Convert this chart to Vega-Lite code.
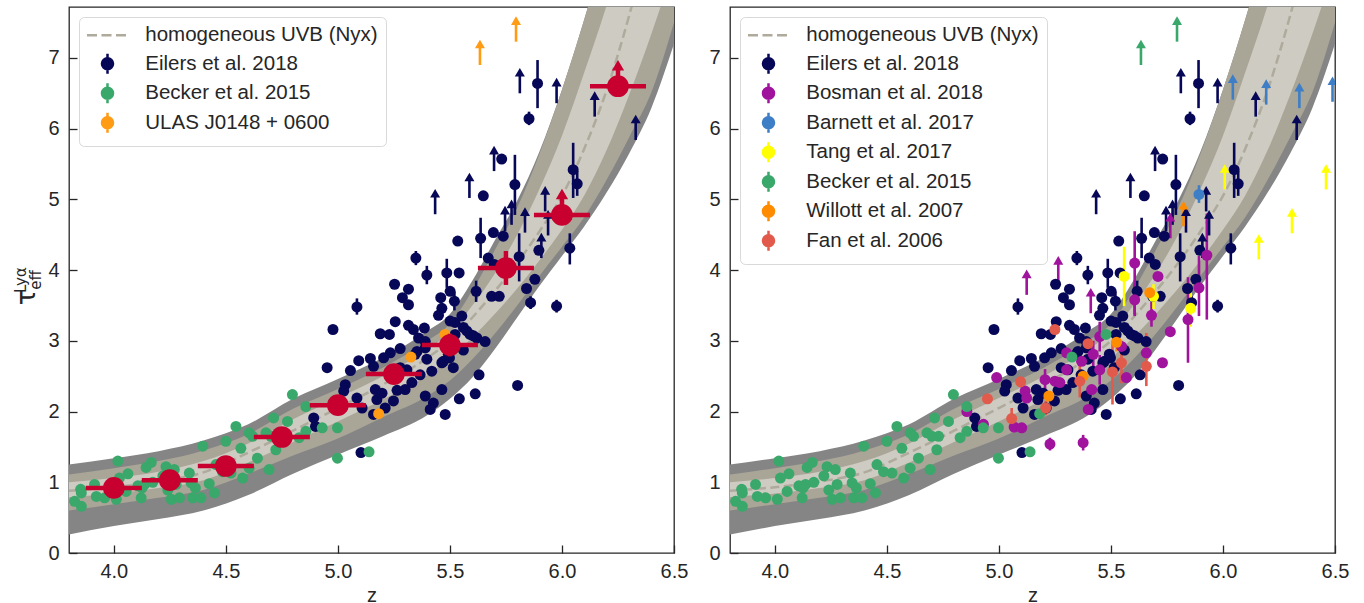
{
"$schema":"https://vega.github.io/schema/vega-lite/v6.json",
"padding":{"left":5,"top":6,"right":5,"bottom":0},
"background":"white",
"datasets":{
"band":[
{"z":3.8,"dlo":0.26,"blo":0.60,"llo":0.79,"c":0.88,"lhi":1.00,"bhi":1.11,"dhi":1.25},
{"z":4.0,"dlo":0.38,"blo":0.69,"llo":0.84,"c":0.93,"lhi":1.06,"bhi":1.20,"dhi":1.34},
{"z":4.2,"dlo":0.48,"blo":0.78,"llo":0.92,"c":1.01,"lhi":1.15,"bhi":1.30,"dhi":1.44},
{"z":4.4,"dlo":0.60,"blo":0.89,"llo":1.03,"c":1.14,"lhi":1.30,"bhi":1.45,"dhi":1.59},
{"z":4.6,"dlo":0.82,"blo":1.12,"llo":1.28,"c":1.42,"lhi":1.55,"bhi":1.68,"dhi":1.82},
{"z":4.8,"dlo":1.12,"blo":1.38,"llo":1.57,"c":1.73,"lhi":1.89,"bhi":2.04,"dhi":2.18},
{"z":5.0,"dlo":1.39,"blo":1.62,"llo":1.86,"c":2.05,"lhi":2.19,"bhi":2.32,"dhi":2.46},
{"z":5.2,"dlo":1.65,"blo":1.92,"llo":2.17,"c":2.38,"lhi":2.50,"bhi":2.62,"dhi":2.76},
{"z":5.4,"dlo":1.95,"blo":2.22,"llo":2.52,"c":2.76,"lhi":2.88,"bhi":3.00,"dhi":3.14},
{"z":5.5,"dlo":2.18,"blo":2.44,"llo":2.76,"c":3.00,"lhi":3.12,"bhi":3.24,"dhi":3.38},
{"z":5.6,"dlo":2.48,"blo":2.74,"llo":3.05,"c":3.33,"lhi":3.50,"bhi":3.71,"dhi":3.85},
{"z":5.7,"dlo":2.88,"blo":3.10,"llo":3.38,"c":3.70,"lhi":3.95,"bhi":4.28,"dhi":4.42},
{"z":5.8,"dlo":3.33,"blo":3.50,"llo":3.74,"c":4.10,"lhi":4.50,"bhi":4.88,"dhi":4.98},
{"z":5.9,"dlo":3.78,"blo":3.92,"llo":4.14,"c":4.55,"lhi":5.15,"bhi":5.65,"dhi":5.68},
{"z":6.0,"dlo":4.20,"blo":4.33,"llo":4.57,"c":5.05,"lhi":5.90,"bhi":6.55,"dhi":6.55},
{"z":6.1,"dlo":4.62,"blo":4.75,"llo":5.06,"c":5.72,"lhi":6.80,"bhi":7.55,"dhi":7.55},
{"z":6.2,"dlo":5.10,"blo":5.28,"llo":5.70,"c":6.55,"lhi":7.75,"bhi":8.65,"dhi":8.65},
{"z":6.3,"dlo":5.65,"blo":5.88,"llo":6.48,"c":7.60,"lhi":8.85,"bhi":9.80,"dhi":9.80},
{"z":6.4,"dlo":6.30,"blo":6.52,"llo":7.35,"c":8.85,"lhi":10.1,"bhi":11.0,"dhi":11.0},
{"z":6.5,"dlo":7.20,"blo":7.50,"llo":8.30,"c":10.2,"lhi":11.4,"bhi":12.2,"dhi":12.2}
],
"bins":[
{"z":4.0,"t":0.92,"zlo":3.875,"zhi":4.125},
{"z":4.25,"t":1.03,"zlo":4.125,"zhi":4.375},
{"z":4.5,"t":1.23,"zlo":4.375,"zhi":4.625},
{"z":4.75,"t":1.64,"zlo":4.625,"zhi":4.875,"lo":1.59,"hi":1.69},
{"z":5.0,"t":2.09,"zlo":4.875,"zhi":5.125,"lo":2.0,"hi":2.18},
{"z":5.25,"t":2.53,"zlo":5.125,"zhi":5.375,"lo":2.4,"hi":2.66},
{"z":5.5,"t":2.94,"zlo":5.375,"zhi":5.625,"lo":2.78,"hi":3.1},
{"z":5.75,"t":4.03,"zlo":5.625,"zhi":5.875,"lo":3.79,"hi":4.27},
{"z":6.0,"t":4.78,"zlo":5.875,"zhi":6.125,"lim":1},
{"z":6.25,"t":6.6,"zlo":6.125,"zhi":6.375,"lim":1}
],
"pts":[
{"z":5.891,"t":6.64,"lo":6.29,"hi":6.97,"L":"Eilers et al. 2018","R":"Eilers et al. 2018"},
{"z":5.853,"t":6.14,"lo":6.05,"hi":6.24,"L":"Eilers et al. 2018","R":"Eilers et al. 2018"},
{"z":5.731,"t":5.57,"L":"Eilers et al. 2018","R":"Eilers et al. 2018"},
{"z":6.05,"t":5.42,"lo":5.02,"hi":5.80,"L":"Eilers et al. 2018","R":"Eilers et al. 2018"},
{"z":6.068,"t":5.22,"lo":5.05,"hi":5.40,"L":"Eilers et al. 2018","R":"Eilers et al. 2018"},
{"z":5.79,"t":5.21,"lo":4.78,"hi":5.63,"L":"Eilers et al. 2018","R":"Eilers et al. 2018"},
{"z":5.649,"t":5.05,"L":"Eilers et al. 2018","R":"Eilers et al. 2018"},
{"z":5.637,"t":4.45,"lo":4.17,"hi":4.74,"L":"Eilers et al. 2018","R":"Eilers et al. 2018"},
{"z":5.694,"t":4.53,"L":"Eilers et al. 2018","R":"Eilers et al. 2018"},
{"z":5.738,"t":4.48,"L":"Eilers et al. 2018","R":"Eilers et al. 2018"},
{"z":5.809,"t":4.19,"lo":3.84,"hi":4.52,"L":"Eilers et al. 2018","R":"Eilers et al. 2018"},
{"z":5.897,"t":4.28,"L":"Eilers et al. 2018","R":"Eilers et al. 2018"},
{"z":6.035,"t":4.31,"lo":4.08,"hi":4.52,"L":"Eilers et al. 2018","R":"Eilers et al. 2018"},
{"z":5.486,"t":3.96,"lo":3.75,"hi":4.16,"L":"Eilers et al. 2018","R":"Eilers et al. 2018"},
{"z":5.541,"t":3.96,"L":"Eilers et al. 2018","R":"Eilers et al. 2018"},
{"z":5.671,"t":4.17,"L":"Eilers et al. 2018","R":"Eilers et al. 2018"},
{"z":5.698,"t":4.08,"L":"Eilers et al. 2018","R":"Eilers et al. 2018"},
{"z":5.879,"t":3.87,"L":"Eilers et al. 2018","R":"Eilers et al. 2018"},
{"z":5.842,"t":3.74,"L":"Eilers et al. 2018","R":"Eilers et al. 2018"},
{"z":5.617,"t":3.70,"lo":3.55,"hi":3.85,"L":"Eilers et al. 2018","R":"Eilers et al. 2018"},
{"z":5.686,"t":3.63,"L":"Eilers et al. 2018","R":"Eilers et al. 2018"},
{"z":5.72,"t":3.63,"L":"Eilers et al. 2018","R":"Eilers et al. 2018"},
{"z":5.86,"t":3.54,"lo":3.45,"hi":3.63,"L":"Eilers et al. 2018","R":"Eilers et al. 2018"},
{"z":5.976,"t":3.49,"lo":3.40,"hi":3.58,"L":"Eilers et al. 2018","R":"Eilers et al. 2018"},
{"z":5.535,"t":4.41,"L":"Eilers et al. 2018","R":"Eilers et al. 2018"},
{"z":5.348,"t":4.17,"lo":4.07,"hi":4.27,"L":"Eilers et al. 2018","R":"Eilers et al. 2018"},
{"z":5.397,"t":3.93,"lo":3.80,"hi":4.06,"L":"Eilers et al. 2018","R":"Eilers et al. 2018"},
{"z":5.253,"t":3.80,"L":"Eilers et al. 2018","R":"Eilers et al. 2018"},
{"z":5.315,"t":3.73,"L":"Eilers et al. 2018","R":"Eilers et al. 2018"},
{"z":5.288,"t":3.61,"L":"Eilers et al. 2018","R":"Eilers et al. 2018"},
{"z":5.315,"t":3.51,"L":"Eilers et al. 2018","R":"Eilers et al. 2018"},
{"z":5.085,"t":3.48,"lo":3.37,"hi":3.60,"L":"Eilers et al. 2018","R":"Eilers et al. 2018"},
{"z":4.978,"t":3.16,"L":"Eilers et al. 2018","R":"Eilers et al. 2018"},
{"z":5.256,"t":3.27,"L":"Eilers et al. 2018","R":"Eilers et al. 2018"},
{"z":5.315,"t":3.22,"L":"Eilers et al. 2018","R":"Eilers et al. 2018"},
{"z":5.189,"t":3.10,"L":"Eilers et al. 2018","R":"Eilers et al. 2018"},
{"z":5.23,"t":3.09,"L":"Eilers et al. 2018","R":"Eilers et al. 2018"},
{"z":5.337,"t":3.16,"L":"Eilers et al. 2018","R":"Eilers et al. 2018"},
{"z":5.386,"t":3.18,"L":"Eilers et al. 2018","R":"Eilers et al. 2018"},
{"z":5.36,"t":3.04,"L":"Eilers et al. 2018","R":"Eilers et al. 2018"},
{"z":5.459,"t":3.61,"L":"Eilers et al. 2018","R":"Eilers et al. 2018"},
{"z":5.464,"t":3.46,"L":"Eilers et al. 2018","R":"Eilers et al. 2018"},
{"z":5.449,"t":3.36,"L":"Eilers et al. 2018","R":"Eilers et al. 2018"},
{"z":5.501,"t":3.70,"L":"Eilers et al. 2018","R":"Eilers et al. 2018"},
{"z":5.52,"t":3.56,"lo":3.43,"hi":3.69,"L":"Eilers et al. 2018","R":"Eilers et al. 2018"},
{"z":5.553,"t":3.35,"L":"Eilers et al. 2018","R":"Eilers et al. 2018"},
{"z":5.523,"t":3.26,"L":"Eilers et al. 2018","R":"Eilers et al. 2018"},
{"z":5.56,"t":3.19,"L":"Eilers et al. 2018","R":"Eilers et al. 2018"},
{"z":5.59,"t":3.09,"L":"Eilers et al. 2018","R":"Eilers et al. 2018"},
{"z":5.62,"t":3.04,"L":"Eilers et al. 2018","R":"Eilers et al. 2018"},
{"z":5.657,"t":2.99,"L":"Eilers et al. 2018","R":"Eilers et al. 2018"},
{"z":5.56,"t":2.87,"L":"Eilers et al. 2018","R":"Eilers et al. 2018"},
{"z":5.39,"t":2.99,"L":"Eilers et al. 2018","R":"Eilers et al. 2018"},
{"z":5.353,"t":2.85,"L":"Eilers et al. 2018","R":"Eilers et al. 2018"},
{"z":5.397,"t":2.74,"L":"Eilers et al. 2018","R":"Eilers et al. 2018"},
{"z":5.278,"t":2.89,"L":"Eilers et al. 2018","R":"Eilers et al. 2018"},
{"z":5.234,"t":2.83,"L":"Eilers et al. 2018","R":"Eilers et al. 2018"},
{"z":5.204,"t":2.76,"L":"Eilers et al. 2018","R":"Eilers et al. 2018"},
{"z":5.145,"t":2.75,"L":"Eilers et al. 2018","R":"Eilers et al. 2018"},
{"z":5.093,"t":2.72,"L":"Eilers et al. 2018","R":"Eilers et al. 2018"},
{"z":5.056,"t":2.58,"L":"Eilers et al. 2018","R":"Eilers et al. 2018"},
{"z":4.952,"t":2.62,"L":"Eilers et al. 2018","R":"Eilers et al. 2018"},
{"z":5.464,"t":2.69,"L":"Eilers et al. 2018","R":"Eilers et al. 2018"},
{"z":5.498,"t":2.76,"L":"Eilers et al. 2018","R":"Eilers et al. 2018"},
{"z":5.419,"t":2.57,"L":"Eilers et al. 2018","R":"Eilers et al. 2018"},
{"z":5.63,"t":2.52,"L":"Eilers et al. 2018","R":"Eilers et al. 2018"},
{"z":5.308,"t":2.59,"L":"Eilers et al. 2018","R":"Eilers et al. 2018"},
{"z":5.367,"t":2.52,"L":"Eilers et al. 2018","R":"Eilers et al. 2018"},
{"z":5.575,"t":3.14,"L":"Eilers et al. 2018","R":"Eilers et al. 2018"},
{"z":5.605,"t":3.07,"L":"Eilers et al. 2018","R":"Eilers et al. 2018"},
{"z":5.464,"t":2.31,"L":"Eilers et al. 2018","R":"Eilers et al. 2018"},
{"z":5.542,"t":2.18,"L":"Eilers et al. 2018","R":"Eilers et al. 2018"},
{"z":5.613,"t":2.25,"L":"Eilers et al. 2018","R":"Eilers et al. 2018"},
{"z":5.479,"t":1.96,"L":"Eilers et al. 2018","R":"Eilers et al. 2018"},
{"z":5.802,"t":2.37,"L":"Eilers et al. 2018","R":"Eilers et al. 2018"},
{"z":5.033,"t":2.38,"L":"Eilers et al. 2018","R":"Eilers et al. 2018"},
{"z":5.026,"t":2.29,"L":"Eilers et al. 2018","R":"Eilers et al. 2018"},
{"z":5.085,"t":2.19,"L":"Eilers et al. 2018","R":"Eilers et al. 2018"},
{"z":5.108,"t":2.05,"L":"Eilers et al. 2018","R":"Eilers et al. 2018"},
{"z":5.167,"t":2.31,"L":"Eilers et al. 2018","R":"Eilers et al. 2018"},
{"z":5.174,"t":2.17,"L":"Eilers et al. 2018","R":"Eilers et al. 2018"},
{"z":5.211,"t":2.05,"L":"Eilers et al. 2018","R":"Eilers et al. 2018"},
{"z":5.248,"t":2.15,"L":"Eilers et al. 2018","R":"Eilers et al. 2018"},
{"z":5.159,"t":1.96,"L":"Eilers et al. 2018","R":"Eilers et al. 2018"},
{"z":5.197,"t":2.26,"L":"Eilers et al. 2018","R":"Eilers et al. 2018"},
{"z":5.264,"t":2.30,"L":"Eilers et al. 2018","R":"Eilers et al. 2018"},
{"z":5.30,"t":2.31,"L":"Eilers et al. 2018","R":"Eilers et al. 2018"},
{"z":5.33,"t":2.41,"L":"Eilers et al. 2018","R":"Eilers et al. 2018"},
{"z":5.278,"t":2.62,"L":"Eilers et al. 2018","R":"Eilers et al. 2018"},
{"z":5.39,"t":2.22,"L":"Eilers et al. 2018","R":"Eilers et al. 2018"},
{"z":5.426,"t":2.12,"L":"Eilers et al. 2018","R":"Eilers et al. 2018"},
{"z":5.412,"t":2.03,"L":"Eilers et al. 2018","R":"Eilers et al. 2018"},
{"z":5.345,"t":2.81,"L":"Eilers et al. 2018","R":"Eilers et al. 2018"},
{"z":5.39,"t":2.90,"L":"Eilers et al. 2018","R":"Eilers et al. 2018"},
{"z":5.471,"t":2.71,"L":"Eilers et al. 2018","R":"Eilers et al. 2018"},
{"z":5.493,"t":2.81,"L":"Eilers et al. 2018","R":"Eilers et al. 2018"},
{"z":5.515,"t":2.62,"L":"Eilers et al. 2018","R":"Eilers et al. 2018"},
{"z":5.501,"t":3.28,"L":"Eilers et al. 2018","R":"Eilers et al. 2018"},
{"z":5.523,"t":3.09,"L":"Eilers et al. 2018","R":"Eilers et al. 2018"},
{"z":4.892,"t":1.91,"L":"Eilers et al. 2018","R":"Eilers et al. 2018"},
{"z":4.90,"t":1.79,"L":"Eilers et al. 2018","R":"Eilers et al. 2018"},
{"z":5.103,"t":1.42,"L":"Eilers et al. 2018","R":"Eilers et al. 2018"},
{"z":5.159,"t":2.64,"L":"Eilers et al. 2018","R":"Eilers et al. 2018"},
{"z":5.434,"t":4.79,"lim":1,"L":"Eilers et al. 2018","R":"Eilers et al. 2018"},
{"z":5.587,"t":5.02,"lim":1,"L":"Eilers et al. 2018","R":"Eilers et al. 2018"},
{"z":5.812,"t":6.50,"lim":1,"L":"Eilers et al. 2018","R":"Eilers et al. 2018"},
{"z":5.976,"t":6.36,"lim":1,"L":"Eilers et al. 2018","R":"Eilers et al. 2018"},
{"z":6.146,"t":6.17,"lim":1,"L":"Eilers et al. 2018","R":"Eilers et al. 2018"},
{"z":6.329,"t":5.84,"lim":1,"L":"Eilers et al. 2018","R":"Eilers et al. 2018"},
{"z":5.697,"t":5.40,"lim":1,"L":"Eilers et al. 2018","R":"Eilers et al. 2018"},
{"z":5.925,"t":4.83,"lim":1,"L":"Eilers et al. 2018","R":"Eilers et al. 2018"},
{"z":5.775,"t":4.64,"lim":1,"L":"Eilers et al. 2018","R":"Eilers et al. 2018"},
{"z":5.746,"t":4.55,"lim":1,"L":"Eilers et al. 2018","R":"Eilers et al. 2018"},
{"z":5.835,"t":4.53,"lim":1,"L":"Eilers et al. 2018","R":"Eilers et al. 2018"},
{"z":5.908,"t":4.17,"lim":1,"L":"Eilers et al. 2018","R":"Eilers et al. 2018"},
{"z":5.938,"t":4.49,"lim":1,"L":"Eilers et al. 2018","R":"Eilers et al. 2018"},
{"z":5.606,"t":4.10,"lo":3.37,"hi":4.55,"R":"Bosman et al. 2018"},
{"z":5.606,"t":3.58,"lo":3.35,"hi":3.80,"R":"Bosman et al. 2018"},
{"z":5.45,"t":3.06,"lo":2.85,"hi":3.27,"R":"Bosman et al. 2018"},
{"z":5.421,"t":2.81,"lo":2.62,"hi":3.00,"R":"Bosman et al. 2018"},
{"z":5.369,"t":2.71,"R":"Bosman et al. 2018"},
{"z":5.302,"t":2.83,"R":"Bosman et al. 2018"},
{"z":5.302,"t":2.59,"R":"Bosman et al. 2018"},
{"z":5.45,"t":2.59,"lo":2.38,"hi":2.80,"R":"Bosman et al. 2018"},
{"z":5.569,"t":2.48,"R":"Bosman et al. 2018"},
{"z":5.414,"t":2.31,"R":"Bosman et al. 2018"},
{"z":5.399,"t":2.03,"R":"Bosman et al. 2018"},
{"z":5.206,"t":2.45,"lo":2.30,"hi":2.60,"R":"Bosman et al. 2018"},
{"z":5.25,"t":2.43,"R":"Bosman et al. 2018"},
{"z":5.272,"t":2.41,"R":"Bosman et al. 2018"},
{"z":5.117,"t":2.29,"R":"Bosman et al. 2018"},
{"z":5.124,"t":2.19,"R":"Bosman et al. 2018"},
{"z":4.99,"t":2.48,"R":"Bosman et al. 2018"},
{"z":4.857,"t":2.0,"R":"Bosman et al. 2018"},
{"z":4.931,"t":1.82,"R":"Bosman et al. 2018"},
{"z":5.068,"t":1.78,"R":"Bosman et al. 2018"},
{"z":5.102,"t":1.77,"R":"Bosman et al. 2018"},
{"z":5.228,"t":1.54,"lo":1.45,"hi":1.63,"R":"Bosman et al. 2018"},
{"z":5.376,"t":1.56,"lo":1.45,"hi":1.67,"R":"Bosman et al. 2018"},
{"z":5.547,"t":2.92,"R":"Bosman et al. 2018"},
{"z":5.681,"t":3.36,"lo":3.20,"hi":3.55,"R":"Bosman et al. 2018"},
{"z":5.765,"t":3.13,"R":"Bosman et al. 2018"},
{"z":5.73,"t":2.69,"R":"Bosman et al. 2018"},
{"z":5.844,"t":3.30,"lo":2.69,"hi":3.90,"R":"Bosman et al. 2018"},
{"z":5.658,"t":2.83,"R":"Bosman et al. 2018"},
{"z":5.71,"t":3.91,"R":"Bosman et al. 2018"},
{"z":5.928,"t":4.21,"lo":3.30,"hi":4.80,"R":"Bosman et al. 2018"},
{"z":5.893,"t":3.75,"lo":3.35,"hi":4.20,"R":"Bosman et al. 2018"},
{"z":5.124,"t":3.65,"lim":1,"R":"Bosman et al. 2018"},
{"z":5.265,"t":3.84,"lim":1,"R":"Bosman et al. 2018"},
{"z":5.41,"t":3.39,"lim":1,"R":"Bosman et al. 2018"},
{"z":5.765,"t":4.45,"lim":1,"R":"Bosman et al. 2018"},
{"z":5.893,"t":5.07,"lo":4.95,"hi":5.20,"R":"Barnett et al. 2017"},
{"z":6.044,"t":6.41,"lim":1,"R":"Barnett et al. 2017"},
{"z":6.193,"t":6.34,"lim":1,"R":"Barnett et al. 2017"},
{"z":6.341,"t":6.29,"lim":1,"R":"Barnett et al. 2017"},
{"z":6.489,"t":6.38,"lim":1,"R":"Barnett et al. 2017"},
{"z":5.559,"t":3.91,"lo":3.49,"hi":4.33,"R":"Tang et al. 2017"},
{"z":5.69,"t":3.63,"lo":3.45,"hi":3.80,"R":"Tang et al. 2017"},
{"z":5.856,"t":3.46,"lo":3.20,"hi":3.70,"R":"Tang et al. 2017"},
{"z":6.008,"t":5.14,"lim":1,"R":"Tang et al. 2017"},
{"z":6.16,"t":4.15,"lim":1,"R":"Tang et al. 2017"},
{"z":6.308,"t":4.52,"lim":1,"R":"Tang et al. 2017"},
{"z":6.46,"t":5.14,"lim":1,"R":"Tang et al. 2017"},
{"z":3.825,"t":0.73,"L":"Becker et al. 2015","R":"Becker et al. 2015"},
{"z":3.855,"t":0.66,"L":"Becker et al. 2015","R":"Becker et al. 2015"},
{"z":3.855,"t":0.85,"L":"Becker et al. 2015","R":"Becker et al. 2015"},
{"z":3.852,"t":0.90,"L":"Becker et al. 2015","R":"Becker et al. 2015"},
{"z":3.914,"t":0.97,"L":"Becker et al. 2015","R":"Becker et al. 2015"},
{"z":3.922,"t":0.80,"L":"Becker et al. 2015","R":"Becker et al. 2015"},
{"z":3.959,"t":0.78,"L":"Becker et al. 2015","R":"Becker et al. 2015"},
{"z":4.011,"t":0.76,"L":"Becker et al. 2015","R":"Becker et al. 2015"},
{"z":4.018,"t":1.30,"L":"Becker et al. 2015","R":"Becker et al. 2015"},
{"z":4.025,"t":1.06,"L":"Becker et al. 2015","R":"Becker et al. 2015"},
{"z":4.063,"t":1.12,"L":"Becker et al. 2015","R":"Becker et al. 2015"},
{"z":4.055,"t":0.87,"L":"Becker et al. 2015","R":"Becker et al. 2015"},
{"z":4.107,"t":0.95,"L":"Becker et al. 2015","R":"Becker et al. 2015"},
{"z":4.122,"t":0.78,"L":"Becker et al. 2015","R":"Becker et al. 2015"},
{"z":4.126,"t":0.92,"L":"Becker et al. 2015","R":"Becker et al. 2015"},
{"z":4.137,"t":0.97,"L":"Becker et al. 2015","R":"Becker et al. 2015"},
{"z":4.144,"t":1.21,"L":"Becker et al. 2015","R":"Becker et al. 2015"},
{"z":4.167,"t":1.28,"L":"Becker et al. 2015","R":"Becker et al. 2015"},
{"z":4.174,"t":1.00,"L":"Becker et al. 2015","R":"Becker et al. 2015"},
{"z":4.219,"t":1.09,"L":"Becker et al. 2015","R":"Becker et al. 2015"},
{"z":4.233,"t":1.22,"L":"Becker et al. 2015","R":"Becker et al. 2015"},
{"z":4.241,"t":0.89,"L":"Becker et al. 2015","R":"Becker et al. 2015"},
{"z":4.256,"t":0.76,"L":"Becker et al. 2015","R":"Becker et al. 2015"},
{"z":4.27,"t":1.18,"L":"Becker et al. 2015","R":"Becker et al. 2015"},
{"z":4.278,"t":0.97,"L":"Becker et al. 2015","R":"Becker et al. 2015"},
{"z":4.293,"t":0.78,"L":"Becker et al. 2015","R":"Becker et al. 2015"},
{"z":4.337,"t":1.13,"L":"Becker et al. 2015","R":"Becker et al. 2015"},
{"z":4.345,"t":0.99,"L":"Becker et al. 2015","R":"Becker et al. 2015"},
{"z":4.352,"t":0.78,"L":"Becker et al. 2015","R":"Becker et al. 2015"},
{"z":4.364,"t":0.92,"L":"Becker et al. 2015","R":"Becker et al. 2015"},
{"z":4.389,"t":0.78,"L":"Becker et al. 2015","R":"Becker et al. 2015"},
{"z":4.397,"t":1.51,"L":"Becker et al. 2015","R":"Becker et al. 2015"},
{"z":4.426,"t":0.98,"L":"Becker et al. 2015","R":"Becker et al. 2015"},
{"z":4.449,"t":0.85,"L":"Becker et al. 2015","R":"Becker et al. 2015"},
{"z":4.456,"t":1.25,"L":"Becker et al. 2015","R":"Becker et al. 2015"},
{"z":4.5,"t":1.58,"L":"Becker et al. 2015","R":"Becker et al. 2015"},
{"z":4.485,"t":1.15,"L":"Becker et al. 2015","R":"Becker et al. 2015"},
{"z":4.523,"t":1.13,"L":"Becker et al. 2015","R":"Becker et al. 2015"},
{"z":4.545,"t":1.79,"L":"Becker et al. 2015","R":"Becker et al. 2015"},
{"z":4.567,"t":1.48,"L":"Becker et al. 2015","R":"Becker et al. 2015"},
{"z":4.575,"t":1.06,"L":"Becker et al. 2015","R":"Becker et al. 2015"},
{"z":4.604,"t":1.70,"L":"Becker et al. 2015","R":"Becker et al. 2015"},
{"z":4.619,"t":1.65,"L":"Becker et al. 2015","R":"Becker et al. 2015"},
{"z":4.604,"t":1.20,"L":"Becker et al. 2015","R":"Becker et al. 2015"},
{"z":4.641,"t":1.34,"L":"Becker et al. 2015","R":"Becker et al. 2015"},
{"z":4.679,"t":1.70,"L":"Becker et al. 2015","R":"Becker et al. 2015"},
{"z":4.693,"t":1.18,"L":"Becker et al. 2015","R":"Becker et al. 2015"},
{"z":4.701,"t":1.65,"L":"Becker et al. 2015","R":"Becker et al. 2015"},
{"z":4.713,"t":1.91,"L":"Becker et al. 2015","R":"Becker et al. 2015"},
{"z":4.731,"t":1.65,"L":"Becker et al. 2015","R":"Becker et al. 2015"},
{"z":4.723,"t":1.46,"L":"Becker et al. 2015","R":"Becker et al. 2015"},
{"z":4.775,"t":1.86,"L":"Becker et al. 2015","R":"Becker et al. 2015"},
{"z":4.797,"t":2.24,"L":"Becker et al. 2015","R":"Becker et al. 2015"},
{"z":4.827,"t":1.63,"L":"Becker et al. 2015","R":"Becker et al. 2015"},
{"z":4.857,"t":2.07,"L":"Becker et al. 2015","R":"Becker et al. 2015"},
{"z":4.857,"t":1.72,"L":"Becker et al. 2015","R":"Becker et al. 2015"},
{"z":4.93,"t":1.77,"L":"Becker et al. 2015","R":"Becker et al. 2015"},
{"z":4.998,"t":1.77,"L":"Becker et al. 2015","R":"Becker et al. 2015"},
{"z":4.998,"t":1.34,"L":"Becker et al. 2015","R":"Becker et al. 2015"},
{"z":5.139,"t":1.43,"L":"Becker et al. 2015","R":"Becker et al. 2015"},
{"z":5.182,"t":1.97,"L":"ULAS J0148 + 0600","R":"Becker et al. 2015"},
{"z":5.326,"t":2.77,"L":"ULAS J0148 + 0600","R":"Becker et al. 2015"},
{"z":5.478,"t":3.09,"L":"ULAS J0148 + 0600","R":"Becker et al. 2015"},
{"z":5.634,"t":6.90,"lim":1,"L":"ULAS J0148 + 0600","R":"Becker et al. 2015"},
{"z":5.795,"t":7.23,"lim":1,"L":"ULAS J0148 + 0600","R":"Becker et al. 2015"},
{"z":5.525,"t":2.98,"lo":2.85,"hi":3.10,"R":"Willott et al. 2007"},
{"z":5.376,"t":2.50,"R":"Willott et al. 2007"},
{"z":5.223,"t":2.22,"R":"Willott et al. 2007"},
{"z":5.673,"t":3.68,"R":"Willott et al. 2007"},
{"z":5.824,"t":4.62,"lim":1,"R":"Willott et al. 2007"},
{"z":5.25,"t":3.16,"R":"Fan et al. 2006"},
{"z":5.398,"t":2.96,"R":"Fan et al. 2006"},
{"z":5.547,"t":2.69,"lo":2.40,"hi":3.00,"R":"Fan et al. 2006"},
{"z":5.507,"t":2.56,"lo":2.10,"hi":3.00,"R":"Fan et al. 2006"},
{"z":5.361,"t":2.43,"lo":2.20,"hi":2.85,"R":"Fan et al. 2006"},
{"z":5.097,"t":2.42,"R":"Fan et al. 2006"},
{"z":4.949,"t":2.18,"R":"Fan et al. 2006"},
{"z":5.209,"t":2.05,"lo":1.95,"hi":2.15,"R":"Fan et al. 2006"},
{"z":5.057,"t":1.90,"lo":1.75,"hi":2.05,"R":"Fan et al. 2006"},
{"z":5.658,"t":2.64,"lo":2.36,"hi":3.11,"R":"Fan et al. 2006"}
]
},
"bounds":"flush",
"spacing":56,
"resolve":{"scale":{"color":"independent"},"legend":{"color":"independent"}},
"hconcat":[
{
"width":605,"height":546,
"title":{"text":"Lyα","subtitle":"eff","orient":"left","anchor":"middle","offset":-38,"font":"DejaVu Sans","fontSize":15,"fontWeight":"normal","subtitleFont":"DejaVu Sans","subtitleFontSize":15,"subtitlePadding":0,"color":"#262626","subtitleColor":"#262626"},
"layer":[
{"data":{"name":"band"},"mark":{"type":"area","color":"#858585","clip":true,"interpolate":"monotone"},
"encoding":{"x":{"field":"z","type":"quantitative","scale":{"domain":[3.8,6.5],"nice":false,"zero":false},"axis":{"values":[4,4.5,5,5.5,6,6.5],"format":".1f","labelPadding":32,"labelBaseline":"alphabetic","labelFlush":false,"labelOverlap":false,"title":"z","titleY":48,"titleBaseline":"alphabetic"}},
"y":{"field":"dlo","type":"quantitative","scale":{"domain":[0,7.72],"nice":false,"zero":false},"axis":{"values":[0,1,2,3,4,5,6,7],"format":"d","labelPadding":18,"labelFlush":false,"labelOverlap":false,"title":"τ","titleFont":"DejaVu Sans","titleFontSize":26,"titleAngle":270,"titleBaseline":"alphabetic","titleAlign":"center","titleX":-35,"titleY":290,"minExtent":63,"maxExtent":63}},
"y2":{"field":"dhi"}}},
{"data":{"name":"band"},"mark":{"type":"area","color":"#a9a597","clip":true,"interpolate":"monotone"},
"encoding":{"x":{"field":"z","type":"quantitative"},"y":{"field":"blo","type":"quantitative"},"y2":{"field":"bhi"}}},
{"data":{"name":"band"},"mark":{"type":"area","color":"#cecbc2","clip":true,"interpolate":"monotone"},
"encoding":{"x":{"field":"z","type":"quantitative"},"y":{"field":"llo","type":"quantitative"},"y2":{"field":"lhi"}}},
{"data":{"name":"band"},"mark":{"type":"line","color":"#aeaa9c","strokeWidth":2.5,"strokeDash":[9,4.5],"clip":true,"interpolate":"monotone"},
"encoding":{"x":{"field":"z","type":"quantitative"},"y":{"field":"c","type":"quantitative"}}},
{"data":{"name":"pts"},"transform":[{"filter":"isValid(datum.L) && isValid(datum.lo)"}],"mark":{"type":"rule","strokeWidth":2.6,"clip":true},
"encoding":{"x":{"field":"z","type":"quantitative"},"y":{"field":"lo","type":"quantitative"},"y2":{"field":"hi"},
"color":{"field":"L","type":"nominal","scale":{"domain":["homogeneous UVB (Nyx)","Eilers et al. 2018","Becker et al. 2015","ULAS J0148 + 0600"],"range":["#aeaa9c","#070757","#3aa86b","#ff9b15"]},
"legend":{"title":null,"orient":"top-left","offset":10,"padding":8,"rowPadding":-1.5,"symbolSize":144,"symbolOffset":10.25,"labelOffset":27.5,"labelFont":"Liberation Sans","labelFontSize":20.5,"labelColor":"#262626","labelLimit":400,"fillColor":"#ffffff","strokeColor":"#d9d9d9","cornerRadius":5,"symbolType":"M0,-1.67V1.67M-0.92,0A0.92,0.92,0,1,0,0.92,0A0.92,0.92,0,1,0,-0.92,0Z","symbolStrokeWidth":2.5,
"encode":{"symbols":{"update":{
"shape":{"signal":"datum.value === 'homogeneous UVB (Nyx)' ? 'M0,-1.9M0,1.5M-3.417,0H-1.75M-1,0H0.667M1.417,0H3.083' : 'M0,-1.67V1.67M-0.92,0A0.92,0.92,0,1,0,0.92,0A0.92,0.92,0,1,0,-0.92,0Z'"},
"fill":{"signal":"datum.value === 'homogeneous UVB (Nyx)' ? 'transparent' : datum.value === 'Eilers et al. 2018' ? '#070757' : datum.value === 'Becker et al. 2015' ? '#3aa86b' : '#ff9b15'"},
"stroke":{"signal":"datum.value === 'homogeneous UVB (Nyx)' ? '#aeaa9c' : datum.value === 'Eilers et al. 2018' ? '#070757' : datum.value === 'Becker et al. 2015' ? '#3aa86b' : '#ff9b15'"},
"strokeWidth":{"value":2.5},"size":{"value":144},"opacity":{"value":1}}}}}}}},
{"data":{"name":"pts"},"transform":[{"filter":"isValid(datum.L) && datum.lim"}],"mark":{"type":"rule","strokeWidth":2.6,"y2Offset":-22,"clip":true},
"encoding":{"x":{"field":"z","type":"quantitative"},"y":{"field":"t","type":"quantitative"},"y2":{"field":"t"},
"color":{"field":"L","type":"nominal","scale":{"domain":["homogeneous UVB (Nyx)","Eilers et al. 2018","Becker et al. 2015","ULAS J0148 + 0600"],"range":["#aeaa9c","#070757","#3aa86b","#ff9b15"]},
"legend":{"title":null,"orient":"top-left","offset":10,"padding":8,"rowPadding":-1.5,"symbolSize":144,"symbolOffset":10.25,"labelOffset":27.5,"labelFont":"Liberation Sans","labelFontSize":20.5,"labelColor":"#262626","labelLimit":400,"fillColor":"#ffffff","strokeColor":"#d9d9d9","cornerRadius":5,"symbolType":"M0,-1.67V1.67M-0.92,0A0.92,0.92,0,1,0,0.92,0A0.92,0.92,0,1,0,-0.92,0Z","symbolStrokeWidth":2.5,
"encode":{"symbols":{"update":{
"shape":{"signal":"datum.value === 'homogeneous UVB (Nyx)' ? 'M0,-1.9M0,1.5M-3.417,0H-1.75M-1,0H0.667M1.417,0H3.083' : 'M0,-1.67V1.67M-0.92,0A0.92,0.92,0,1,0,0.92,0A0.92,0.92,0,1,0,-0.92,0Z'"},
"fill":{"signal":"datum.value === 'homogeneous UVB (Nyx)' ? 'transparent' : datum.value === 'Eilers et al. 2018' ? '#070757' : datum.value === 'Becker et al. 2015' ? '#3aa86b' : '#ff9b15'"},
"stroke":{"signal":"datum.value === 'homogeneous UVB (Nyx)' ? '#aeaa9c' : datum.value === 'Eilers et al. 2018' ? '#070757' : datum.value === 'Becker et al. 2015' ? '#3aa86b' : '#ff9b15'"},
"strokeWidth":{"value":2.5},"size":{"value":144},"opacity":{"value":1}}}}}}}},
{"data":{"name":"pts"},"transform":[{"filter":"isValid(datum.L) && datum.lim"}],"mark":{"type":"point","shape":"triangle-up","filled":true,"opacity":1,"size":100,"yOffset":-21,"clip":true},
"encoding":{"x":{"field":"z","type":"quantitative"},"y":{"field":"t","type":"quantitative"},
"color":{"field":"L","type":"nominal","scale":{"domain":["homogeneous UVB (Nyx)","Eilers et al. 2018","Becker et al. 2015","ULAS J0148 + 0600"],"range":["#aeaa9c","#070757","#3aa86b","#ff9b15"]},
"legend":{"title":null,"orient":"top-left","offset":10,"padding":8,"rowPadding":-1.5,"symbolSize":144,"symbolOffset":10.25,"labelOffset":27.5,"labelFont":"Liberation Sans","labelFontSize":20.5,"labelColor":"#262626","labelLimit":400,"fillColor":"#ffffff","strokeColor":"#d9d9d9","cornerRadius":5,"symbolType":"M0,-1.67V1.67M-0.92,0A0.92,0.92,0,1,0,0.92,0A0.92,0.92,0,1,0,-0.92,0Z","symbolStrokeWidth":2.5,
"encode":{"symbols":{"update":{
"shape":{"signal":"datum.value === 'homogeneous UVB (Nyx)' ? 'M0,-1.9M0,1.5M-3.417,0H-1.75M-1,0H0.667M1.417,0H3.083' : 'M0,-1.67V1.67M-0.92,0A0.92,0.92,0,1,0,0.92,0A0.92,0.92,0,1,0,-0.92,0Z'"},
"fill":{"signal":"datum.value === 'homogeneous UVB (Nyx)' ? 'transparent' : datum.value === 'Eilers et al. 2018' ? '#070757' : datum.value === 'Becker et al. 2015' ? '#3aa86b' : '#ff9b15'"},
"stroke":{"signal":"datum.value === 'homogeneous UVB (Nyx)' ? '#aeaa9c' : datum.value === 'Eilers et al. 2018' ? '#070757' : datum.value === 'Becker et al. 2015' ? '#3aa86b' : '#ff9b15'"},
"strokeWidth":{"value":2.5},"size":{"value":144},"opacity":{"value":1}}}}}}}},
{"data":{"name":"pts"},"transform":[{"filter":"isValid(datum.L) && !datum.lim"}],"mark":{"type":"point","shape":"circle","filled":true,"opacity":1,"size":121,"clip":true},
"encoding":{"x":{"field":"z","type":"quantitative"},"y":{"field":"t","type":"quantitative"},
"color":{"field":"L","type":"nominal","scale":{"domain":["homogeneous UVB (Nyx)","Eilers et al. 2018","Becker et al. 2015","ULAS J0148 + 0600"],"range":["#aeaa9c","#070757","#3aa86b","#ff9b15"]},
"legend":{"title":null,"orient":"top-left","offset":10,"padding":8,"rowPadding":-1.5,"symbolSize":144,"symbolOffset":10.25,"labelOffset":27.5,"labelFont":"Liberation Sans","labelFontSize":20.5,"labelColor":"#262626","labelLimit":400,"fillColor":"#ffffff","strokeColor":"#d9d9d9","cornerRadius":5,"symbolType":"M0,-1.67V1.67M-0.92,0A0.92,0.92,0,1,0,0.92,0A0.92,0.92,0,1,0,-0.92,0Z","symbolStrokeWidth":2.5,
"encode":{"symbols":{"update":{
"shape":{"signal":"datum.value === 'homogeneous UVB (Nyx)' ? 'M0,-1.9M0,1.5M-3.417,0H-1.75M-1,0H0.667M1.417,0H3.083' : 'M0,-1.67V1.67M-0.92,0A0.92,0.92,0,1,0,0.92,0A0.92,0.92,0,1,0,-0.92,0Z'"},
"fill":{"signal":"datum.value === 'homogeneous UVB (Nyx)' ? 'transparent' : datum.value === 'Eilers et al. 2018' ? '#070757' : datum.value === 'Becker et al. 2015' ? '#3aa86b' : '#ff9b15'"},
"stroke":{"signal":"datum.value === 'homogeneous UVB (Nyx)' ? '#aeaa9c' : datum.value === 'Eilers et al. 2018' ? '#070757' : datum.value === 'Becker et al. 2015' ? '#3aa86b' : '#ff9b15'"},
"strokeWidth":{"value":2.5},"size":{"value":144},"opacity":{"value":1}}}}}}}},
{"data":{"name":"bins"},"mark":{"type":"rule","color":"#c8002f","strokeWidth":4.5},
"encoding":{"x":{"field":"zlo","type":"quantitative"},"x2":{"field":"zhi"},"y":{"field":"t","type":"quantitative"}}},
{"data":{"name":"bins"},"transform":[{"filter":"isValid(datum.lo)"}],"mark":{"type":"rule","color":"#c8002f","strokeWidth":4.5},
"encoding":{"x":{"field":"z","type":"quantitative"},"y":{"field":"lo","type":"quantitative"},"y2":{"field":"hi"}}},
{"data":{"name":"bins"},"transform":[{"filter":"datum.lim"}],"mark":{"type":"rule","color":"#c8002f","strokeWidth":4.5,"y2Offset":-22},
"encoding":{"x":{"field":"z","type":"quantitative"},"y":{"field":"t","type":"quantitative"},"y2":{"field":"t"}}},
{"data":{"name":"bins"},"transform":[{"filter":"datum.lim"}],"mark":{"type":"point","shape":"triangle-up","filled":true,"opacity":1,"color":"#c8002f","size":150,"yOffset":-21},
"encoding":{"x":{"field":"z","type":"quantitative"},"y":{"field":"t","type":"quantitative"}}},
{"data":{"name":"bins"},"mark":{"type":"point","shape":"circle","filled":true,"opacity":1,"color":"#c8002f","size":470},
"encoding":{"x":{"field":"z","type":"quantitative"},"y":{"field":"t","type":"quantitative"}}}
]
},
{
"width":605,"height":546,
"layer":[
{"data":{"name":"band"},"mark":{"type":"area","color":"#858585","clip":true,"interpolate":"monotone"},
"encoding":{"x":{"field":"z","type":"quantitative","scale":{"domain":[3.8,6.5],"nice":false,"zero":false},"axis":{"values":[4,4.5,5,5.5,6,6.5],"format":".1f","labelPadding":32,"labelBaseline":"alphabetic","labelFlush":false,"labelOverlap":false,"title":"z","titleY":48,"titleBaseline":"alphabetic"}},
"y":{"field":"dlo","type":"quantitative","scale":{"domain":[0,7.72],"nice":false,"zero":false},"axis":{"values":[0,1,2,3,4,5,6,7],"format":"d","labelPadding":18,"labelFlush":false,"labelOverlap":false,"title":null,"minExtent":30,"maxExtent":30}},
"y2":{"field":"dhi"}}},
{"data":{"name":"band"},"mark":{"type":"area","color":"#a9a597","clip":true,"interpolate":"monotone"},
"encoding":{"x":{"field":"z","type":"quantitative"},"y":{"field":"blo","type":"quantitative"},"y2":{"field":"bhi"}}},
{"data":{"name":"band"},"mark":{"type":"area","color":"#cecbc2","clip":true,"interpolate":"monotone"},
"encoding":{"x":{"field":"z","type":"quantitative"},"y":{"field":"llo","type":"quantitative"},"y2":{"field":"lhi"}}},
{"data":{"name":"band"},"mark":{"type":"line","color":"#aeaa9c","strokeWidth":2.5,"strokeDash":[9,4.5],"clip":true,"interpolate":"monotone"},
"encoding":{"x":{"field":"z","type":"quantitative"},"y":{"field":"c","type":"quantitative"}}},
{"data":{"name":"pts"},"transform":[{"filter":"isValid(datum.R) && isValid(datum.lo)"}],"mark":{"type":"rule","strokeWidth":2.6,"clip":true},
"encoding":{"x":{"field":"z","type":"quantitative"},"y":{"field":"lo","type":"quantitative"},"y2":{"field":"hi"},
"color":{"field":"R","type":"nominal","scale":{"domain":["homogeneous UVB (Nyx)","Eilers et al. 2018","Bosman et al. 2018","Barnett et al. 2017","Tang et al. 2017","Becker et al. 2015","Willott et al. 2007","Fan et al. 2006"],"range":["#aeaa9c","#070757","#a0139d","#3d7ec6","#ffff00","#3aa86b","#ff8c00","#e25a4b"]},
"legend":{"title":null,"orient":"top-left","offset":10,"padding":8,"rowPadding":-1.5,"symbolSize":144,"symbolOffset":10.25,"labelOffset":27.5,"labelFont":"Liberation Sans","labelFontSize":20.5,"labelColor":"#262626","labelLimit":400,"fillColor":"#ffffff","strokeColor":"#d9d9d9","cornerRadius":5,"symbolType":"M0,-1.67V1.67M-0.92,0A0.92,0.92,0,1,0,0.92,0A0.92,0.92,0,1,0,-0.92,0Z","symbolStrokeWidth":2.5,
"encode":{"symbols":{"update":{
"shape":{"signal":"datum.value === 'homogeneous UVB (Nyx)' ? 'M0,-1.9M0,1.5M-3.417,0H-1.75M-1,0H0.667M1.417,0H3.083' : 'M0,-1.67V1.67M-0.92,0A0.92,0.92,0,1,0,0.92,0A0.92,0.92,0,1,0,-0.92,0Z'"},
"fill":{"signal":"datum.value === 'homogeneous UVB (Nyx)' ? 'transparent' : datum.value === 'Eilers et al. 2018' ? '#070757' : datum.value === 'Bosman et al. 2018' ? '#a0139d' : datum.value === 'Barnett et al. 2017' ? '#3d7ec6' : datum.value === 'Tang et al. 2017' ? '#ffff00' : datum.value === 'Becker et al. 2015' ? '#3aa86b' : datum.value === 'Willott et al. 2007' ? '#ff8c00' : '#e25a4b'"},
"stroke":{"signal":"datum.value === 'homogeneous UVB (Nyx)' ? '#aeaa9c' : datum.value === 'Eilers et al. 2018' ? '#070757' : datum.value === 'Bosman et al. 2018' ? '#a0139d' : datum.value === 'Barnett et al. 2017' ? '#3d7ec6' : datum.value === 'Tang et al. 2017' ? '#ffff00' : datum.value === 'Becker et al. 2015' ? '#3aa86b' : datum.value === 'Willott et al. 2007' ? '#ff8c00' : '#e25a4b'"},
"strokeWidth":{"value":2.5},"size":{"value":144},"opacity":{"value":1}}}}}}}},
{"data":{"name":"pts"},"transform":[{"filter":"isValid(datum.R) && datum.lim"}],"mark":{"type":"rule","strokeWidth":2.6,"y2Offset":-22,"clip":true},
"encoding":{"x":{"field":"z","type":"quantitative"},"y":{"field":"t","type":"quantitative"},"y2":{"field":"t"},
"color":{"field":"R","type":"nominal","scale":{"domain":["homogeneous UVB (Nyx)","Eilers et al. 2018","Bosman et al. 2018","Barnett et al. 2017","Tang et al. 2017","Becker et al. 2015","Willott et al. 2007","Fan et al. 2006"],"range":["#aeaa9c","#070757","#a0139d","#3d7ec6","#ffff00","#3aa86b","#ff8c00","#e25a4b"]},
"legend":{"title":null,"orient":"top-left","offset":10,"padding":8,"rowPadding":-1.5,"symbolSize":144,"symbolOffset":10.25,"labelOffset":27.5,"labelFont":"Liberation Sans","labelFontSize":20.5,"labelColor":"#262626","labelLimit":400,"fillColor":"#ffffff","strokeColor":"#d9d9d9","cornerRadius":5,"symbolType":"M0,-1.67V1.67M-0.92,0A0.92,0.92,0,1,0,0.92,0A0.92,0.92,0,1,0,-0.92,0Z","symbolStrokeWidth":2.5,
"encode":{"symbols":{"update":{
"shape":{"signal":"datum.value === 'homogeneous UVB (Nyx)' ? 'M0,-1.9M0,1.5M-3.417,0H-1.75M-1,0H0.667M1.417,0H3.083' : 'M0,-1.67V1.67M-0.92,0A0.92,0.92,0,1,0,0.92,0A0.92,0.92,0,1,0,-0.92,0Z'"},
"fill":{"signal":"datum.value === 'homogeneous UVB (Nyx)' ? 'transparent' : datum.value === 'Eilers et al. 2018' ? '#070757' : datum.value === 'Bosman et al. 2018' ? '#a0139d' : datum.value === 'Barnett et al. 2017' ? '#3d7ec6' : datum.value === 'Tang et al. 2017' ? '#ffff00' : datum.value === 'Becker et al. 2015' ? '#3aa86b' : datum.value === 'Willott et al. 2007' ? '#ff8c00' : '#e25a4b'"},
"stroke":{"signal":"datum.value === 'homogeneous UVB (Nyx)' ? '#aeaa9c' : datum.value === 'Eilers et al. 2018' ? '#070757' : datum.value === 'Bosman et al. 2018' ? '#a0139d' : datum.value === 'Barnett et al. 2017' ? '#3d7ec6' : datum.value === 'Tang et al. 2017' ? '#ffff00' : datum.value === 'Becker et al. 2015' ? '#3aa86b' : datum.value === 'Willott et al. 2007' ? '#ff8c00' : '#e25a4b'"},
"strokeWidth":{"value":2.5},"size":{"value":144},"opacity":{"value":1}}}}}}}},
{"data":{"name":"pts"},"transform":[{"filter":"isValid(datum.R) && datum.lim"}],"mark":{"type":"point","shape":"triangle-up","filled":true,"opacity":1,"size":100,"yOffset":-21,"clip":true},
"encoding":{"x":{"field":"z","type":"quantitative"},"y":{"field":"t","type":"quantitative"},
"color":{"field":"R","type":"nominal","scale":{"domain":["homogeneous UVB (Nyx)","Eilers et al. 2018","Bosman et al. 2018","Barnett et al. 2017","Tang et al. 2017","Becker et al. 2015","Willott et al. 2007","Fan et al. 2006"],"range":["#aeaa9c","#070757","#a0139d","#3d7ec6","#ffff00","#3aa86b","#ff8c00","#e25a4b"]},
"legend":{"title":null,"orient":"top-left","offset":10,"padding":8,"rowPadding":-1.5,"symbolSize":144,"symbolOffset":10.25,"labelOffset":27.5,"labelFont":"Liberation Sans","labelFontSize":20.5,"labelColor":"#262626","labelLimit":400,"fillColor":"#ffffff","strokeColor":"#d9d9d9","cornerRadius":5,"symbolType":"M0,-1.67V1.67M-0.92,0A0.92,0.92,0,1,0,0.92,0A0.92,0.92,0,1,0,-0.92,0Z","symbolStrokeWidth":2.5,
"encode":{"symbols":{"update":{
"shape":{"signal":"datum.value === 'homogeneous UVB (Nyx)' ? 'M0,-1.9M0,1.5M-3.417,0H-1.75M-1,0H0.667M1.417,0H3.083' : 'M0,-1.67V1.67M-0.92,0A0.92,0.92,0,1,0,0.92,0A0.92,0.92,0,1,0,-0.92,0Z'"},
"fill":{"signal":"datum.value === 'homogeneous UVB (Nyx)' ? 'transparent' : datum.value === 'Eilers et al. 2018' ? '#070757' : datum.value === 'Bosman et al. 2018' ? '#a0139d' : datum.value === 'Barnett et al. 2017' ? '#3d7ec6' : datum.value === 'Tang et al. 2017' ? '#ffff00' : datum.value === 'Becker et al. 2015' ? '#3aa86b' : datum.value === 'Willott et al. 2007' ? '#ff8c00' : '#e25a4b'"},
"stroke":{"signal":"datum.value === 'homogeneous UVB (Nyx)' ? '#aeaa9c' : datum.value === 'Eilers et al. 2018' ? '#070757' : datum.value === 'Bosman et al. 2018' ? '#a0139d' : datum.value === 'Barnett et al. 2017' ? '#3d7ec6' : datum.value === 'Tang et al. 2017' ? '#ffff00' : datum.value === 'Becker et al. 2015' ? '#3aa86b' : datum.value === 'Willott et al. 2007' ? '#ff8c00' : '#e25a4b'"},
"strokeWidth":{"value":2.5},"size":{"value":144},"opacity":{"value":1}}}}}}}},
{"data":{"name":"pts"},"transform":[{"filter":"isValid(datum.R) && !datum.lim"}],"mark":{"type":"point","shape":"circle","filled":true,"opacity":1,"size":121,"clip":true},
"encoding":{"x":{"field":"z","type":"quantitative"},"y":{"field":"t","type":"quantitative"},
"color":{"field":"R","type":"nominal","scale":{"domain":["homogeneous UVB (Nyx)","Eilers et al. 2018","Bosman et al. 2018","Barnett et al. 2017","Tang et al. 2017","Becker et al. 2015","Willott et al. 2007","Fan et al. 2006"],"range":["#aeaa9c","#070757","#a0139d","#3d7ec6","#ffff00","#3aa86b","#ff8c00","#e25a4b"]},
"legend":{"title":null,"orient":"top-left","offset":10,"padding":8,"rowPadding":-1.5,"symbolSize":144,"symbolOffset":10.25,"labelOffset":27.5,"labelFont":"Liberation Sans","labelFontSize":20.5,"labelColor":"#262626","labelLimit":400,"fillColor":"#ffffff","strokeColor":"#d9d9d9","cornerRadius":5,"symbolType":"M0,-1.67V1.67M-0.92,0A0.92,0.92,0,1,0,0.92,0A0.92,0.92,0,1,0,-0.92,0Z","symbolStrokeWidth":2.5,
"encode":{"symbols":{"update":{
"shape":{"signal":"datum.value === 'homogeneous UVB (Nyx)' ? 'M0,-1.9M0,1.5M-3.417,0H-1.75M-1,0H0.667M1.417,0H3.083' : 'M0,-1.67V1.67M-0.92,0A0.92,0.92,0,1,0,0.92,0A0.92,0.92,0,1,0,-0.92,0Z'"},
"fill":{"signal":"datum.value === 'homogeneous UVB (Nyx)' ? 'transparent' : datum.value === 'Eilers et al. 2018' ? '#070757' : datum.value === 'Bosman et al. 2018' ? '#a0139d' : datum.value === 'Barnett et al. 2017' ? '#3d7ec6' : datum.value === 'Tang et al. 2017' ? '#ffff00' : datum.value === 'Becker et al. 2015' ? '#3aa86b' : datum.value === 'Willott et al. 2007' ? '#ff8c00' : '#e25a4b'"},
"stroke":{"signal":"datum.value === 'homogeneous UVB (Nyx)' ? '#aeaa9c' : datum.value === 'Eilers et al. 2018' ? '#070757' : datum.value === 'Bosman et al. 2018' ? '#a0139d' : datum.value === 'Barnett et al. 2017' ? '#3d7ec6' : datum.value === 'Tang et al. 2017' ? '#ffff00' : datum.value === 'Becker et al. 2015' ? '#3aa86b' : datum.value === 'Willott et al. 2007' ? '#ff8c00' : '#e25a4b'"},
"strokeWidth":{"value":2.5},"size":{"value":144},"opacity":{"value":1}}}}}}}}
]
}
],
"config":{
"view":{"stroke":"#262626","strokeWidth":1.3},
"font":"Liberation Sans",
"axis":{"domain":false,"grid":false,"tickSize":-8,"tickColor":"#262626","tickWidth":1.3,"labelFont":"Liberation Sans","labelFontSize":20,"labelColor":"#262626","titleFont":"Liberation Sans","titleFontSize":20,"titleColor":"#262626","titleFontWeight":"normal"}
}
}
